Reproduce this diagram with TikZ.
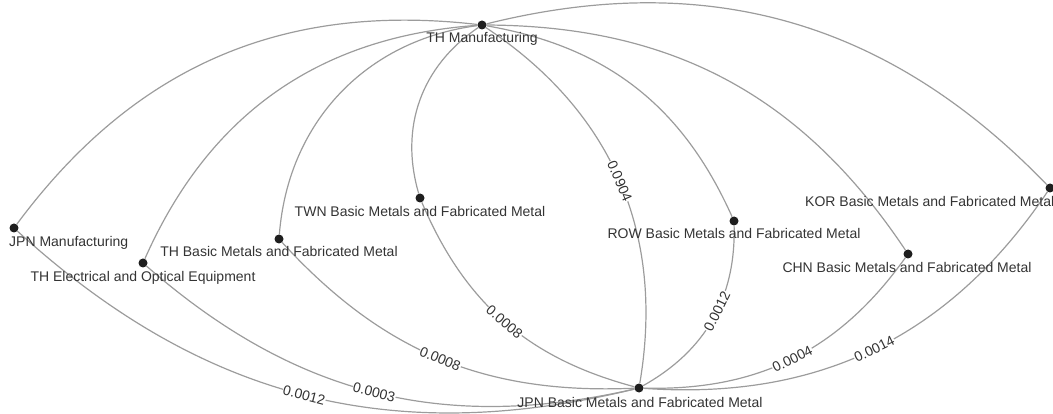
\documentclass[tikz,border=0pt]{standalone}
\usepackage{fontspec}
\setmainfont{Liberation Sans}
\definecolor{edgegray}{HTML}{9C9C9C}
\definecolor{textgray}{HTML}{333333}
\definecolor{dotblack}{HTML}{1E1E1E}

\begin{document}
\begin{tikzpicture}[x=1pt,y=-1pt,
  sector/.style={circle,fill=dotblack,inner sep=0pt,minimum size=9pt},
  sectortag/.style={text=textgray,font=\fontsize{14}{16}\selectfont,inner sep=0pt,anchor=base},
  flow/.style={draw=edgegray,line width=1.2pt},
  flowval/.style={text=textgray,font=\fontsize{14}{16}\selectfont,fill=white,inner sep=0.5pt,sloped}]
\useasboundingbox (0,0) rectangle (1053,414);
\node[sector] (thm) at (482,25) {};
\node[sector] (jpnm) at (14,228) {};
\node[sector] (thelec) at (143,263) {};
\node[sector] (thbm) at (279,239) {};
\node[sector] (twn) at (420,198) {};
\node[sector] (row) at (734,221) {};
\node[sector] (chn) at (908,254) {};
\node[sector] (kor) at (1050,188) {};
\node[sector] (jbm) at (639,388) {};
\draw[flow] (thm) to[bend right=30] (jpnm);
\draw[flow] (thm) to[bend right=31] (thelec);
\draw[flow] (thm) to[bend right=39] (thbm);
\draw[flow] (thm) to[bend right=36] (twn);
\draw[flow] (thm) to[bend left=28] (row);
\draw[flow] (thm) to[bend left=28] (chn);
\draw[flow] (thm) to[bend left=30] (kor);
\draw[flow] (thm) to[bend left=33] node[flowval] {0.0904} (jbm);
\draw[flow] (jpnm) to[bend right=28] node[flowval] {0.0012} (jbm);
\draw[flow] (thelec) to[bend right=27] node[flowval] {0.0003} (jbm);
\draw[flow] (thbm) to[bend right=25] node[flowval] {0.0008} (jbm);
\draw[flow] (twn) to[bend right=26] node[flowval] {0.0008} (jbm);
\draw[flow] (row) to[bend left=31] node[flowval,pos=0.45] {0.0012} (jbm);
\draw[flow] (chn) to[bend left=28] node[flowval] {0.0004} (jbm);
\draw[flow] (kor) to[bend left=30] node[flowval] {0.0014} (jbm);
\node[sectortag] (thm-t) at (482,43) {TH Manufacturing};
\node[sectortag,anchor=base west] (jpnm-t) at (9,247) {JPN Manufacturing};
\node[sectortag] (thelec-t) at (143,282) {TH Electrical and Optical Equipment};
\node[sectortag] (thbm-t) at (279,257) {TH Basic Metals and Fabricated Metal};
\node[sectortag] (twn-t) at (420,217) {TWN Basic Metals and Fabricated Metal};
\node[sectortag] (row-t) at (734,239) {ROW Basic Metals and Fabricated Metal};
\node[sectortag] (chn-t) at (907,273) {CHN Basic Metals and Fabricated Metal};
\node[sectortag,anchor=base west] (kor-t) at (805,207) {KOR Basic Metals and Fabricated Metal};
\node[sectortag] (jbm-t) at (640,407) {JPN Basic Metals and Fabricated Metal};
\end{tikzpicture}
\end{document}
